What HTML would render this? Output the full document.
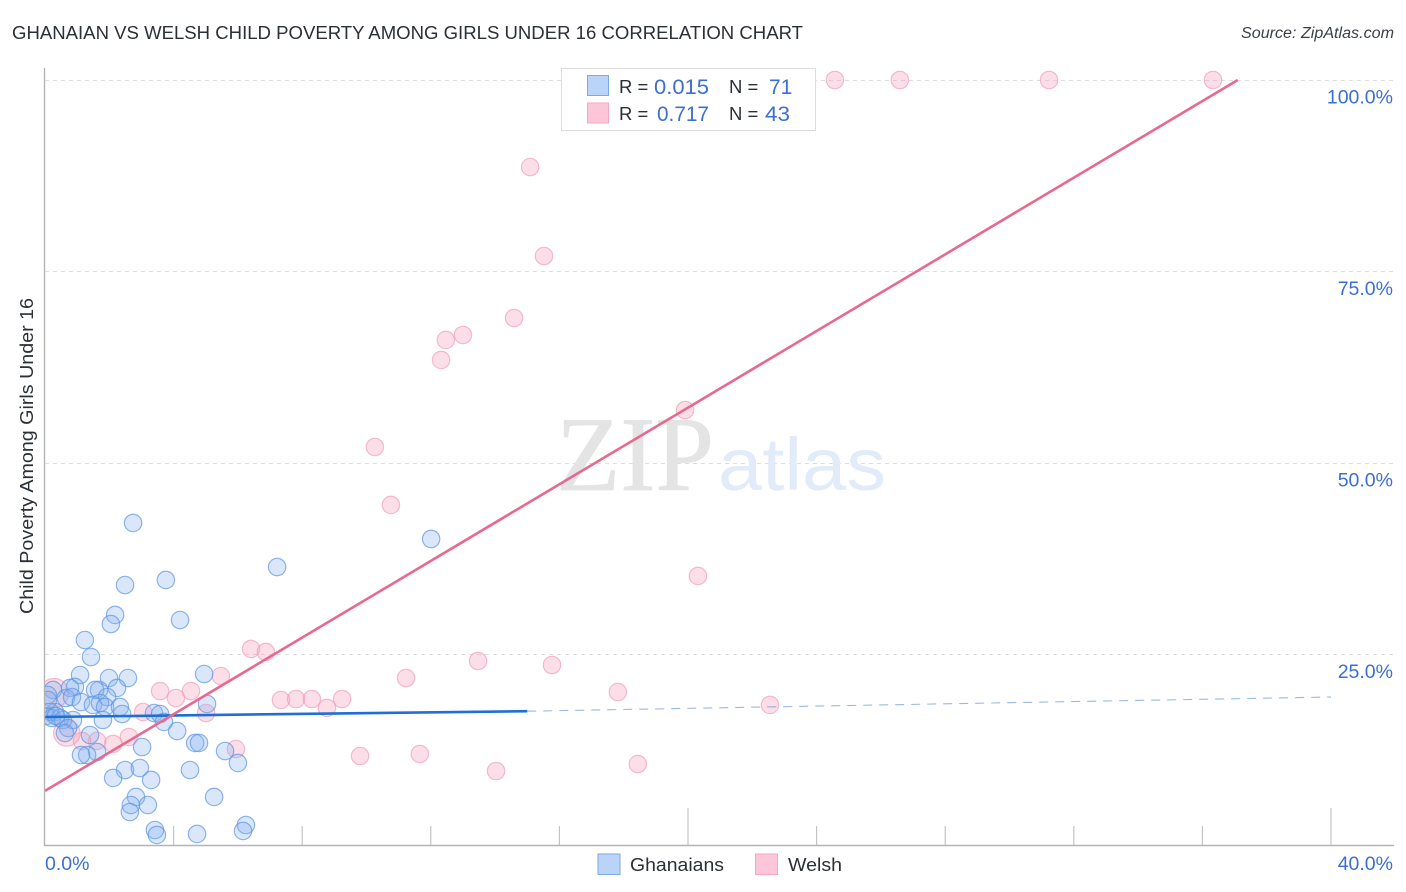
<!DOCTYPE html>
<html lang="en">
<head>
<meta charset="utf-8">
<title>Ghanaian vs Welsh Child Poverty Among Girls Under 16 Correlation Chart</title>
<style>
html,body{margin:0;padding:0;background:#fff;}
svg{display:block;font-family:"Liberation Sans",sans-serif;}
.blue{fill:#3b6fd4;}
.dark{fill:#2b2f36;}
</style>
</head>
<body>
<svg id="chart" width="1406" height="892" viewBox="0 0 1406 892" xmlns="http://www.w3.org/2000/svg">
  <defs>
    <clipPath id="plot-clip"><rect x="45" y="60" width="1349" height="786"></rect></clipPath>
  </defs>
  <rect width="1406" height="892" fill="#fff"></rect>
  <text x="12" y="39" font-size="18.5" fill="#2b2f36" textLength="791" lengthAdjust="spacingAndGlyphs">GHANAIAN VS WELSH CHILD POVERTY AMONG GIRLS UNDER 16 CORRELATION CHART</text>
  <text x="1241" y="38" font-size="15.5" font-style="italic" fill="#3a3f46" textLength="153" lengthAdjust="spacingAndGlyphs">Source: ZipAtlas.com</text>
  <g id="grid"></g>
  <g>
    <text x="556" y="490" font-size="106" fill="#e4e4e4" stroke="#e4e4e4" stroke-width="0.8" style="font-family:'Liberation Serif',serif" textLength="158" lengthAdjust="spacingAndGlyphs">ZIP</text>
    <text x="718" y="490" font-size="74" fill="#e1ebf9" textLength="168" lengthAdjust="spacingAndGlyphs">atlas</text>
  </g>
  <g id="welsh-points" clip-path="url(#plot-clip)"></g>
  <g id="ghanaian-points" clip-path="url(#plot-clip)"></g>
  <g id="trends"></g>
  <g id="axes"></g>
  <text transform="translate(33 456) rotate(-90)" font-size="18" fill="#2b2f36" text-anchor="middle" textLength="316" lengthAdjust="spacingAndGlyphs">Child Poverty Among Girls Under 16</text>
  <g id="tick-labels"></g>

  <g>
    <rect x="561.5" y="68.5" width="254" height="62" fill="#fff" stroke="#dcdcdc" stroke-width="1"></rect>
    <rect x="587.5" y="75.5" width="21" height="20" fill="#b9d4f8" stroke="#7fa9e6"></rect>
    <rect x="587.5" y="103" width="21" height="20" fill="#fcc6d8" stroke="#f3a9c2"></rect>
    <text class="dark" x="619" y="93" font-size="18.5">R =</text>
    <text class="blue" x="654" y="94" font-size="21" textLength="55" lengthAdjust="spacingAndGlyphs">0.015</text>
    <text class="dark" x="729" y="93" font-size="18.5">N =</text>
    <text class="blue" x="769" y="94" font-size="21">71</text>
    <text class="dark" x="619" y="120" font-size="18.5">R =</text>
    <text class="blue" x="657" y="121" font-size="21" textLength="52" lengthAdjust="spacingAndGlyphs">0.717</text>
    <text class="dark" x="729" y="120" font-size="18.5">N =</text>
    <text class="blue" x="765" y="121" font-size="21" textLength="25" lengthAdjust="spacingAndGlyphs">43</text>
  </g>

  <g>
    <rect x="598" y="854" width="22" height="20.5" fill="#b9d4f8" stroke="#7fa9e6"></rect>
    <text class="dark" x="630" y="871" font-size="18.5" textLength="94" lengthAdjust="spacingAndGlyphs">Ghanaians</text>
    <rect x="755.5" y="854" width="22" height="20.5" fill="#fcc6d8" stroke="#f3a9c2"></rect>
    <text class="dark" x="788" y="871" font-size="18.5" textLength="54" lengthAdjust="spacingAndGlyphs">Welsh</text>
  </g>
</svg>
<script>
// Chart data (x and y in percent)
const ghanaianX = [2.74,7.22,12.01,3.76,2.49,2.18,2.05,4.20,1.24,1.43,1.09,2.58,1.99,4.95,2.24,0.93,0.78,1.68,1.56,0.25,0.09,0.65,0.84,1.93,1.12,1.49,1.71,1.87,2.33,2.40,5.04,3.39,3.58,3.70,1.80,0.87,0.31,0.16,0.03,0.22,0.47,0.56,0.72,0.62,4.11,1.40,3.02,4.67,4.79,5.60,1.62,1.31,1.12,6.00,2.49,2.95,4.51,3.30,2.12,2.83,5.26,2.67,3.20,2.64,3.42,3.48,4.73,6.25,6.16,0.09,0.34];
const ghanaianY = [42.17,36.42,40.08,34.73,34.07,30.16,28.98,29.50,26.89,24.67,22.32,21.93,21.93,22.45,20.63,20.76,20.63,20.37,20.37,20.37,19.71,19.32,19.45,19.45,18.80,18.41,18.67,18.15,18.15,17.23,18.54,17.36,17.23,16.19,16.45,16.45,17.49,17.49,16.97,16.71,16.71,16.45,15.40,14.75,15.01,14.49,12.92,13.45,13.45,12.40,12.27,11.88,11.88,10.84,9.92,10.18,9.92,8.62,8.88,6.40,6.40,5.35,5.35,4.44,2.09,1.44,1.57,2.74,1.96,19.06,16.97];
const welshX = [24.57,26.59,31.23,36.33,15.09,15.52,14.59,13.00,12.47,12.32,19.91,10.26,10.76,20.31,6.41,6.87,13.47,15.77,5.47,11.23,17.82,3.58,4.54,4.07,7.34,7.81,8.30,9.24,8.77,22.55,5.01,3.05,5.94,2.61,2.12,1.62,1.15,0.68,0.28,9.80,11.66,14.03,18.44];
const welshY = [100,100,100,100,88.64,77.02,68.93,66.71,66.06,63.45,56.92,52.09,44.52,35.25,25.72,25.33,24.15,23.63,22.19,21.93,20.10,20.23,20.23,19.32,19.06,19.19,19.19,19.19,18.02,18.41,17.36,17.49,12.66,14.23,13.32,13.71,13.71,14.75,19.97,11.75,12.01,9.79,10.70];
const welshWeights = [1,1,1,1,1,1,1,1,1,1,1,1,1,1,1,1,1,1,1,1,1,1,1,1,1,1,1,1,1,1,1,1,1,1,1,1,1,2.3,2.8,1,1,1,1];
const ghanaianTrend = [[0,16.84],[15,17.6],[40,19.45]];
const welshTrend = [[0,7.2],[37.1,100]];
const yTicks = [25,50,75,100];
const yTickLabels = ['25.0%','50.0%','75.0%','100.0%'];
const xTicks = [4,8,12,16,20,24,28,32,36,40];
const xMajorTicks = [20,40];
const xEndLabels = ['0.0%','40.0%'];

// Axis functions
function xs(v){ return 45 + v * 32.15; }
function ys(v){ return 846 - v * 7.66; }
function rs(w){ return 8.7 * Math.sqrt(w); }

const NS = 'http://www.w3.org/2000/svg';
function mk(tag, parent, attrs){
  const el = document.createElementNS(NS, tag);
  for (const k in attrs) el.setAttribute(k, attrs[k]);
  parent.appendChild(el);
  return el;
}

const grid = document.getElementById('grid');
yTicks.forEach(function(t){
  const el = mk('line', grid, {x1:45, x2:1394, y1:Math.floor(ys(t)) + 0.5, y2:Math.floor(ys(t)) + 0.5, stroke:'#dddddd', 'stroke-width':1, 'stroke-dasharray':'4 4'});
  
  
});

const welshG = document.getElementById('welsh-points');
welshX.forEach(function(x, i){
  const el = mk('circle', welshG, {cx:xs(x), cy:ys(welshY[i]), r:rs(welshWeights[i]), fill:'#f7a3bf', 'fill-opacity':0.36, stroke:'#f09ab6', 'stroke-opacity':0.65, 'stroke-width':1.2});
  
  
});

const ghanaG = document.getElementById('ghanaian-points');
ghanaianX.forEach(function(x, i){
  const el = mk('circle', ghanaG, {cx:xs(x), cy:ys(ghanaianY[i]), r:rs(1), fill:'#84b1ee', 'fill-opacity':0.3, stroke:'#5c95e2', 'stroke-opacity':0.7, 'stroke-width':1.2});
  
  
});

const trends = document.getElementById('trends');
const gDash = mk('line', trends, {x1:xs(ghanaianTrend[1][0]), y1:ys(ghanaianTrend[1][1]), x2:xs(ghanaianTrend[2][0]), y2:ys(ghanaianTrend[2][1]), stroke:'#6f9bd6', 'stroke-width':1.1, 'stroke-dasharray':'9 7', 'stroke-opacity':0.7});


const gSolid = mk('line', trends, {x1:xs(ghanaianTrend[0][0]), y1:ys(ghanaianTrend[0][1]), x2:xs(ghanaianTrend[1][0]), y2:ys(ghanaianTrend[1][1]), stroke:'#1f6fd6', 'stroke-width':2.6});


const wLine = mk('line', trends, {x1:xs(welshTrend[0][0]), y1:ys(welshTrend[0][1]), x2:xs(welshTrend[1][0]), y2:ys(welshTrend[1][1]), stroke:'#e9688f', 'stroke-width':2.6});



const axes = document.getElementById('axes');
const yAxis = mk('line', axes, {x1:44.5, x2:44.5, y1:68, y2:846, stroke:'#b4b4b4', 'stroke-width':1.4});


const xAxis = mk('line', axes, {x1:44, x2:1394, y1:845.5, y2:845.5, stroke:'#b4b4b4', 'stroke-width':1.4});


xTicks.forEach(function(t){
  const top = xMajorTicks.indexOf(t) >= 0 ? 808 : 826;
  const el = mk('line', axes, {x1:xs(t), x2:xs(t), y1:top, y2:845, stroke:'#c4c4c4', 'stroke-width':1.2});
  
  
});

const labels = document.getElementById('tick-labels');
yTicks.forEach(function(t, i){
  const el = mk('text', labels, {x:1393, y:ys(t) + 23.5, 'font-size':19.5, 'text-anchor':'end', fill:'#3b6fd4'});
  el.textContent = yTickLabels[i];
  
  
});
const x0 = mk('text', labels, {x:45, y:870, 'font-size':19.5, fill:'#3b6fd4'});
x0.textContent = xEndLabels[0];


const x1 = mk('text', labels, {x:1393, y:870, 'font-size':19.5, 'text-anchor':'end', fill:'#3b6fd4'});
x1.textContent = xEndLabels[1];


</script>
</body>
</html>
